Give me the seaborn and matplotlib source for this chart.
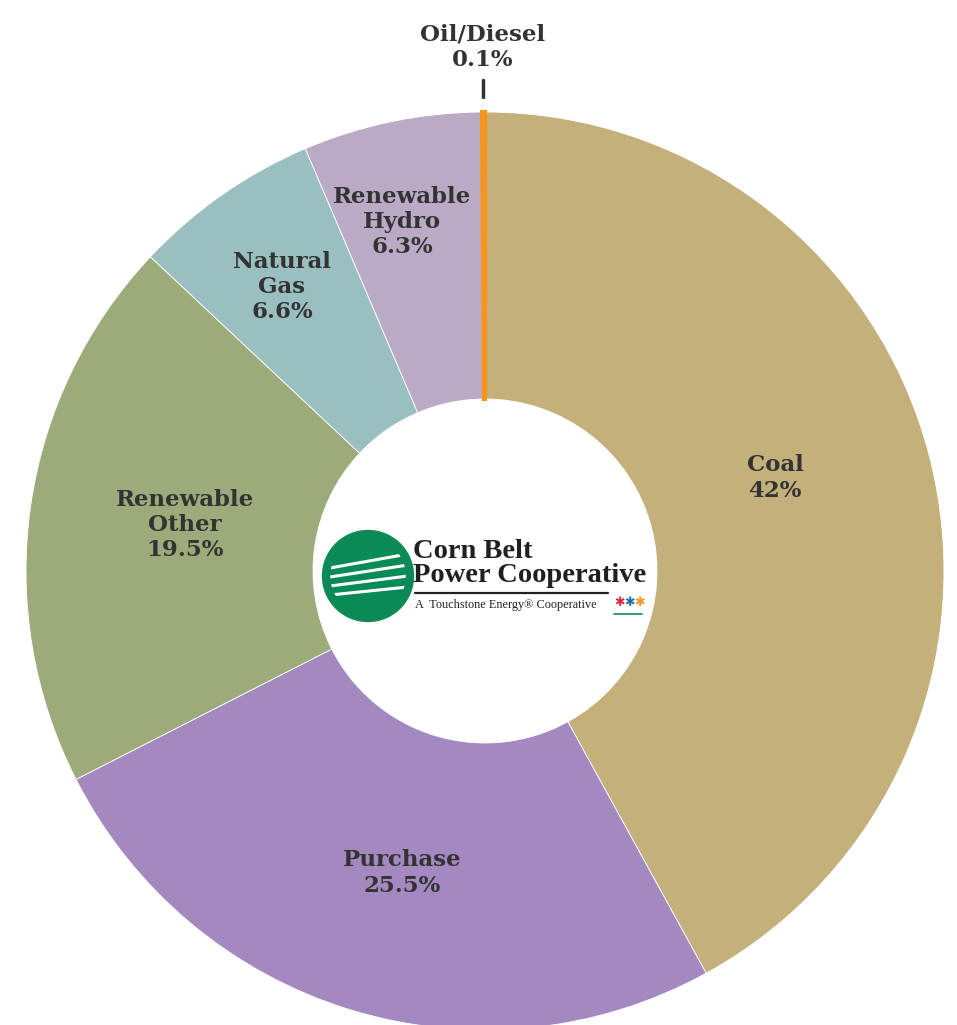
import matplotlib
matplotlib.use("Agg")
import matplotlib.pyplot as plt
import seaborn as sns
import numpy as np
from matplotlib.patches import Circle

sns.set_theme(style="white")
plt.rcParams['font.family'] = ['DejaVu Serif', 'DejaVu Sans']

categories = ["Coal", "Purchase", "Renewable\nOther", "Natural\nGas", "Renewable\nHydro", "Oil/Diesel"]
values = [42.0, 25.5, 19.5, 6.6, 6.3, 0.1]
value_labels = ["42%", "25.5%", "19.5%", "6.6%", "6.3%", "0.1%"]
colors = ["#c4b07b", "#a389bf", "#9dab7a", "#9abfc0", "#bbaac6", "#f7941d"]

W, H = 957, 1025
cx, cy, R = 485, 571, 459

fig = plt.figure(figsize=(W / 100, H / 100), dpi=100)
ax = fig.add_axes([0, 0, 1, 1])

wedges, _ = ax.pie(values, colors=colors, startangle=90, counterclock=False,
                   radius=1.0, wedgeprops=dict(width=1 - 172 / R, edgecolor="white", linewidth=0.6))
wedges[-1].set_edgecolor(colors[-1])
wedges[-1].set_linewidth(3)

ax.set_aspect("auto")
ax.set_xlim(-cx / R, (W - cx) / R)
ax.set_ylim((cy - H) / R, cy / R)
ax.axis("off")


def px(x, y):
    return (x - cx) / R, (cy - y) / R


label_px = [(775, 478), (402, 873), (185, 525), (282, 287), (402, 222)]
for cat, vl, (x, y) in zip(categories[:-1], value_labels[:-1], label_px):
    ax.text(*px(x, y), f"{cat}\n{vl}", ha="center", va="center", fontsize=16.5,
            fontweight="bold", color="#333333", linespacing=1.2)

# Oil/Diesel external label
ax.text(*px(483, 47), f"{categories[-1]}\n{value_labels[-1]}", ha="center", va="center",
        fontsize=16.5, fontweight="bold", color="#333333", linespacing=1.2)
x0, y0 = px(483, 80)
x1, y1 = px(483, 97)
ax.plot([x0, x1], [y0, y1], color="#333333", lw=2.5)

# Center logo
gx, gy = px(368, 576)
ax.add_patch(Circle((gx, gy), 42 / R, color="#0a8a57", zorder=5))
for i, dy in enumerate([-12, -3, 6, 15]):
    xa, ya = px(330, 576 + dy + 4)
    xb, yb = px(408, 576 + dy - 10 + i * 2)
    ax.plot([xa, xb], [ya, yb], color="white", lw=2.2, zorder=6, solid_capstyle="butt")
ax.add_patch(Circle((gx, gy), 42 / R, fill=False, ec="#0a8a57", lw=6, zorder=7))

logo_font = ['Liberation Serif', 'DejaVu Serif']
ax.text(*px(413, 551), "Corn Belt", ha="left", va="center", fontsize=20.5, fontweight="bold",
        family=logo_font, color="#231f20", zorder=8)
ax.text(*px(413, 575), "Power Cooperative", ha="left", va="center", fontsize=20.5, fontweight="bold",
        family=logo_font, color="#231f20", zorder=8)
la, lb = px(415, 593), px(608, 593)
ax.plot([la[0], lb[0]], [la[1], lb[1]], color="#231f20", lw=1.6, zorder=8)
ax.text(*px(415, 605), "A  Touchstone Energy\u00ae Cooperative", ha="left", va="center", fontsize=8.8,
        family=logo_font, color="#231f20", zorder=8)
for xx, c in [(619, "#d7263d"), (629, "#1f6fb2"), (639, "#f7941d")]:
    ax.text(*px(xx, 603), "\u2731", ha="center", va="center", fontsize=9, color=c,
            family=['DejaVu Sans'], zorder=8)
ca, cb = px(614, 614), px(642, 614)
ax.plot([ca[0], cb[0]], [ca[1], cb[1]], color="#0a8a57", lw=1.2, zorder=8)

fig.savefig("out.png", dpi=100)
